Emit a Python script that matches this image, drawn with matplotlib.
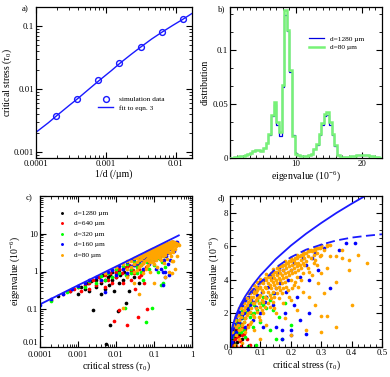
import numpy as np
import matplotlib
matplotlib.use("Agg")
import matplotlib.pyplot as plt
from matplotlib.ticker import LogLocator, NullFormatter, FixedLocator, FuncFormatter, MultipleLocator

plt.rcParams['font.family'] = ['Liberation Serif', 'DejaVu Serif']
plt.rcParams['mathtext.fontset'] = 'custom'
plt.rcParams['mathtext.rm'] = 'Liberation Serif'
plt.rcParams['mathtext.it'] = 'Liberation Serif:italic'

# ---- panel a: critical stress vs 1/d
sim_x = [1/5120, 1/2560, 1/1280, 1/640, 1/320, 1/160, 1/80]
sim_y = [0.0037, 0.0070, 0.0137, 0.0261, 0.0457, 0.0795, 0.128]
fit_x = [1e-4, 1.5e-4, 2e-4, 3e-4, 4e-4, 6e-4, 8e-4, 1.2e-3, 1.6e-3, 2.3e-3,
         3.125e-3, 4.5e-3, 6.25e-3, 9e-3, 1.25e-2, 1.7e-2]
fit_y = [0.00205, 0.0029, 0.0038, 0.0055, 0.0071, 0.0104, 0.0136, 0.0196, 0.0258, 0.0355,
         0.046, 0.062, 0.079, 0.102, 0.127, 0.158]

# ---- panel b: eigenvalue distributions (bins of 0.4 centred on 0, 0.4, 0.8 ...)
dist_green = [0.0, 0.0003, 0.0006, 0.001, 0.0015, 0.002, 0.003, 0.004, 0.005, 0.0065,
              0.0075, 0.0072, 0.0068, 0.009, 0.014, 0.022, 0.040, 0.052, 0.033, 0.024,
              0.068, 0.137, 0.119, 0.082, 0.020, 0.004, 0.003, 0.002, 0.002, 0.002,
              0.003, 0.004, 0.008, 0.013, 0.022, 0.032, 0.041, 0.043, 0.033, 0.022,
              0.012, 0.003, 0.001, 0.0005, 0.0005, 0.001, 0.0015, 0.002, 0.0025, 0.003,
              0.003, 0.003, 0.0028, 0.0022, 0.0015, 0.001, 0.0005, 0.0003]
dist_blue = [0.0, 0.0003, 0.0006, 0.001, 0.0015, 0.002, 0.003, 0.004, 0.005, 0.0062,
             0.0072, 0.0070, 0.0066, 0.009, 0.014, 0.021, 0.039, 0.050, 0.031, 0.020,
             0.066, 0.133, 0.118, 0.080, 0.021, 0.005, 0.003, 0.002, 0.002, 0.002,
             0.003, 0.004, 0.008, 0.012, 0.021, 0.031, 0.039, 0.040, 0.031, 0.021,
             0.011, 0.003, 0.001, 0.0005, 0.0005, 0.001, 0.0015, 0.002, 0.0025, 0.0028,
             0.0028, 0.0028, 0.0026, 0.002, 0.0014, 0.001, 0.0005, 0.0003]

# ---- panels c, d: eigenvalue vs critical stress
black_x = [0.0003, 0.0006, 0.001, 0.0012, 0.0015, 0.0018, 0.002, 0.0022, 0.0025, 0.003,
           0.003, 0.0035, 0.004, 0.004, 0.0045, 0.005, 0.005, 0.0055, 0.006, 0.006,
           0.0065, 0.007, 0.007, 0.008, 0.008, 0.009, 0.01, 0.01, 0.011, 0.012,
           0.012, 0.013, 0.015, 0.016, 0.018, 0.02, 0.022, 0.025, 0.03, 0.04]
black_y = [0.22, 0.3, 0.26, 0.4, 0.35, 0.5, 0.3, 0.55, 0.094, 0.6,
           0.4, 0.7, 0.5, 0.25, 0.8, 0.6, 0.35, 0.012, 0.9, 0.7,
           0.45, 0.038, 0.8, 1.0, 0.6, 0.3, 0.9, 0.7, 0.09, 1.1,
           0.5, 0.8, 0.6, 1.0, 0.15, 0.8, 0.3, 1.1, 0.7, 0.5]
red_x = [0.0002, 0.0004, 0.0006, 0.0008, 0.001, 0.0012, 0.0015, 0.002, 0.002, 0.0025,
         0.003, 0.0035, 0.004, 0.005, 0.005, 0.006, 0.007, 0.008, 0.008, 0.009,
         0.01, 0.012, 0.012, 0.014, 0.015, 0.018, 0.019, 0.02, 0.022, 0.025,
         0.028, 0.03, 0.032, 0.037, 0.04, 0.045, 0.05, 0.055, 0.06, 0.065,
         0.01, 0.015, 0.02, 0.025, 0.03, 0.035, 0.04, 0.05]
red_y = [0.18, 0.25, 0.3, 0.35, 0.4, 0.3, 0.45, 0.5, 0.35, 0.6,
         0.45, 0.7, 0.55, 0.8, 0.4, 0.6, 0.9, 0.5, 1.1, 0.05,
         0.7, 1.2, 0.094, 0.9, 0.5, 1.3, 0.039, 0.8, 1.5, 0.6,
         1.1, 1.6, 0.35, 0.063, 1.2, 0.8, 1.7, 0.5, 1.3, 0.1,
         1.0, 1.2, 1.3, 1.0, 0.9, 1.4, 0.7, 1.1]
green_x = [0.0002, 0.0005, 0.001, 0.0015, 0.002, 0.003, 0.004, 0.005, 0.006, 0.008,
           0.01, 0.012, 0.015, 0.017, 0.018, 0.02, 0.025, 0.03, 0.035, 0.04,
           0.045, 0.05, 0.055, 0.06, 0.065, 0.07, 0.075, 0.08, 0.086, 0.09,
           0.1, 0.11, 0.12, 0.13, 0.14, 0.15, 0.16, 0.17, 0.18, 0.2,
           0.03, 0.04, 0.05, 0.06, 0.07, 0.08, 0.09, 0.1, 0.11, 0.12,
           0.13, 0.14, 0.035, 0.045, 0.025]
green_y = [0.17, 0.28, 0.38, 0.4, 0.55, 0.5, 0.75, 0.6, 0.9, 0.7,
           1.2, 0.9, 1.4, 0.11, 0.8, 1.6, 1.2, 1.9, 0.9, 2.2,
           1.5, 0.6, 2.4, 0.045, 1.8, 2.6, 1.2, 2.0, 0.11, 2.8,
           1.5, 2.5, 3.0, 1.0, 2.2, 0.45, 1.8, 0.5, 2.6, 1.3,
           1.5, 1.7, 2.1, 2.3, 2.0, 2.5, 2.2, 2.6, 3.0, 2.3,
           2.8, 3.2, 1.3, 1.0, 0.9]
blue_x = [0.0001, 0.0002, 0.0004, 0.0007, 0.001, 0.0015, 0.002, 0.003, 0.004, 0.005,
          0.006, 0.008, 0.01, 0.012, 0.015, 0.02, 0.02, 0.025, 0.03, 0.035,
          0.04, 0.045, 0.05, 0.055, 0.06, 0.07, 0.075, 0.08, 0.09, 0.1,
          0.1, 0.11, 0.12, 0.13, 0.14, 0.15, 0.16, 0.17, 0.18, 0.19,
          0.2, 0.21, 0.22, 0.24, 0.25, 0.26, 0.28, 0.3, 0.33, 0.36, 0.38, 0.41,
          0.025, 0.03, 0.035, 0.04, 0.045, 0.05, 0.055, 0.06, 0.065, 0.07,
          0.08, 0.085, 0.09, 0.095, 0.105, 0.11, 0.115, 0.125, 0.135, 0.145,
          0.155, 0.165, 0.175, 0.185, 0.2, 0.21, 0.23, 0.25, 0.27, 0.29,
          0.31, 0.2, 0.17, 0.15, 0.23, 0.26]
blue_y = [0.13, 0.19, 0.26, 0.34, 0.42, 0.5, 0.58, 0.7, 0.6, 0.29,
          0.95, 1.1, 0.8, 1.4, 1.2, 1.8, 0.9, 2.0, 1.5, 2.4,
          1.9, 2.7, 1.2, 2.9, 2.2, 3.3, 1.6, 2.7, 3.6, 2.0,
          3.9, 1.2, 3.0, 4.3, 2.5, 3.5, 4.7, 0.45, 2.0, 4.0,
          1.0, 5.0, 3.0, 5.3, 0.8, 4.0, 5.6, 6.1, 3.5, 5.8, 6.2, 6.2,
          1.4, 2.1, 1.7, 2.5, 2.0, 2.8, 2.3, 3.0, 2.5, 2.8,
          3.4, 2.4, 3.1, 3.8, 3.3, 4.0, 2.7, 3.6, 4.1, 3.2,
          4.4, 3.8, 4.6, 3.3, 4.6, 2.5, 4.2, 4.9, 5.3, 4.6,
          5.9, 0.7, 1.0, 1.2, 1.6, 2.0]
orange_x = [0.005, 0.01, 0.015, 0.0155, 0.02, 0.02, 0.02, 0.03, 0.03, 0.03, 0.03,
            0.04, 0.04, 0.04, 0.04, 0.05, 0.05, 0.05, 0.05, 0.06, 0.06, 0.06, 0.06,
            0.07, 0.07, 0.07, 0.07, 0.08, 0.08, 0.08, 0.08, 0.08, 0.09, 0.09, 0.09, 0.09,
            0.1, 0.1, 0.1, 0.1, 0.1, 0.1, 0.11, 0.11, 0.11, 0.11, 0.12, 0.12, 0.12, 0.12, 0.12,
            0.13, 0.13, 0.13, 0.13, 0.14, 0.14, 0.14, 0.14, 0.14, 0.15, 0.15, 0.15, 0.15,
            0.16, 0.16, 0.16, 0.16, 0.16, 0.17, 0.17, 0.17, 0.17, 0.18, 0.18, 0.18, 0.18, 0.18,
            0.19, 0.19, 0.19, 0.2, 0.2, 0.2, 0.2, 0.2, 0.2, 0.21, 0.21, 0.21,
            0.22, 0.22, 0.22, 0.22, 0.22, 0.23, 0.23, 0.24, 0.24, 0.24, 0.24, 0.24,
            0.25, 0.25, 0.25, 0.26, 0.26, 0.26, 0.26, 0.27, 0.27, 0.28, 0.28, 0.28, 0.28,
            0.29, 0.29, 0.3, 0.3, 0.3, 0.3, 0.3, 0.3, 0.31, 0.31, 0.32, 0.32, 0.32, 0.32,
            0.33, 0.33, 0.35, 0.35, 0.35, 0.37, 0.37, 0.39, 0.39, 0.4, 0.42, 0.45,
            0.025, 0.025, 0.035, 0.035, 0.035, 0.045, 0.045, 0.045, 0.055, 0.055, 0.055,
            0.065, 0.065, 0.065, 0.065, 0.075, 0.075, 0.075, 0.075, 0.085, 0.085, 0.085, 0.085,
            0.095, 0.095, 0.095, 0.095, 0.095, 0.105, 0.105, 0.105, 0.105,
            0.115, 0.115, 0.115, 0.115, 0.125, 0.125, 0.125, 0.125,
            0.135, 0.135, 0.135, 0.135, 0.145, 0.145, 0.145, 0.145, 0.145,
            0.155, 0.155, 0.155, 0.155, 0.165, 0.165, 0.165, 0.165,
            0.175, 0.175, 0.175, 0.175, 0.175, 0.185, 0.185, 0.185, 0.185,
            0.195, 0.195, 0.195, 0.195, 0.205, 0.205, 0.205, 0.205,
            0.215, 0.215, 0.215, 0.215, 0.225, 0.225, 0.225, 0.225,
            0.235, 0.235, 0.235, 0.235, 0.245, 0.245, 0.245, 0.255, 0.255, 0.255,
            0.265, 0.265, 0.275, 0.275, 0.275, 0.285, 0.285, 0.285, 0.295, 0.295]
orange_y = [0.9, 1.3, 1.6, 0.11, 1.85, 1.2, 0.7, 2.3, 1.6, 1.0, 0.5,
            2.65, 2.0, 1.3, 0.25, 2.95, 2.4, 1.7, 0.9, 3.2, 2.7, 2.0, 1.2,
            3.45, 3.0, 2.3, 1.5, 3.7, 3.2, 2.6, 1.8, 1.0, 3.9, 3.4, 2.9, 2.1,
            4.05, 3.6, 3.1, 2.4, 1.6, 0.5, 3.8, 3.3, 2.7, 2.0, 4.35, 4.0, 3.5, 2.9, 1.3,
            4.2, 3.7, 3.1, 2.4, 4.65, 4.3, 3.9, 3.3, 2.7, 4.5, 4.0, 3.5, 2.0,
            4.85, 4.6, 4.1, 3.6, 2.9, 4.8, 4.3, 3.8, 3.2, 5.1, 4.9, 4.4, 3.9, 1.7,
            5.0, 4.5, 3.4, 5.3, 5.1, 4.6, 4.0, 2.8, 0.7, 5.2, 4.7, 3.7,
            5.5, 5.3, 4.8, 4.2, 2.2, 5.4, 4.9, 5.65, 5.5, 5.0, 4.4, 3.3,
            5.6, 5.1, 1.0, 5.8, 5.7, 4.5, 3.0, 5.75, 4.3, 5.9, 5.8, 5.2, 2.5,
            5.9, 3.8, 6.0, 5.95, 5.5, 4.4, 1.85, 0.9, 5.8, 3.2, 6.1, 6.0, 4.7, 1.85,
            6.1, 5.4, 5.4, 3.9, 1.2, 5.3, 5.8, 5.2, 4.6, 2.5, 5.5, 5.0,
            1.9, 1.3, 2.3, 1.8, 1.1, 2.6, 2.2, 1.5, 2.9, 2.5, 1.9,
            3.2, 2.8, 2.1, 1.4, 3.4, 3.0, 2.6, 1.9, 3.6, 3.3, 2.8, 2.3,
            3.8, 3.5, 3.0, 2.6, 1.8, 3.9, 3.4, 2.8, 2.2,
            4.1, 3.6, 3.0, 2.4, 4.2, 3.8, 3.3, 2.6,
            4.4, 4.0, 3.5, 2.9, 4.5, 4.1, 3.7, 3.0, 2.3,
            4.7, 4.3, 3.8, 3.2, 4.8, 4.4, 4.0, 3.4,
            4.9, 4.6, 4.1, 3.5, 2.6, 5.0, 4.7, 4.2, 3.6,
            5.1, 4.8, 4.3, 3.0, 5.2, 4.9, 4.4, 3.5,
            5.3, 5.0, 4.5, 3.9, 5.4, 5.0, 4.6, 3.6,
            5.5, 5.2, 4.7, 4.0, 5.6, 5.3, 4.9, 5.7, 5.4, 4.7,
            5.8, 5.3, 5.8, 5.5, 5.0, 5.9, 5.6, 4.9, 5.9, 5.4]

line_x = [1e-4, 3e-4, 1e-3, 3e-3, 6e-3, 0.01, 0.02, 0.035, 0.05, 0.075,
          0.1, 0.15, 0.2, 0.25, 0.3, 0.35, 0.4, 0.45]
line_y = [0.135, 0.234, 0.43, 0.74, 1.05, 1.35, 1.91, 2.53, 3.02, 3.70,
          4.27, 5.23, 6.04, 6.75, 7.39, 7.99, 8.54, 9.06]
dash_x = [1e-4, 0.001, 0.01, 0.03, 0.05, 0.08, 0.1, 0.13, 0.16, 0.2,
          0.25, 0.3, 0.35, 0.4, 0.45, 0.5]
dash_y = [0.135, 0.43, 1.3, 2.25, 2.85, 3.5, 3.85, 4.3, 4.85, 5.35,
          5.8, 6.1, 6.35, 6.52, 6.63, 6.72]

series = [("d=1280 µm", black_x, black_y, "black"),
          ("d=640 µm", red_x, red_y, "#ff0000"),
          ("d=320 µm", green_x, green_y, "#00ff00"),
          ("d=160 µm", blue_x, blue_y, "#0000ff"),
          ("d=80 µm", orange_x, orange_y, "#ffa500")]

W, H = 390, 377
fig = plt.figure(figsize=(W / 100, H / 100), dpi=100)

def box(l, r, t, b):
    return [l / W, 1 - b / H, (r - l) / W, (b - t) / H]

ax_a = fig.add_axes(box(36, 192, 7, 158))
ax_b = fig.add_axes(box(230, 382, 7, 158))
ax_c = fig.add_axes(box(40, 192, 196, 347))
ax_d = fig.add_axes(box(230, 382, 196, 347))

tfs = 6.3
lfs = 7
for ax in (ax_a, ax_b, ax_c, ax_d):
    ax.tick_params(which='both', direction='in', top=True, right=True, labelsize=tfs, pad=1.5)
    ax.tick_params(which='major', length=4, width=0.8)
    ax.tick_params(which='minor', length=2, width=0.6)
    for s in ax.spines.values():
        s.set_linewidth(0.9)

def dec_fmt(v, pos):
    return ('%.6f' % v).rstrip('0').rstrip('.')

# panel a
ax_a.plot(fit_x, fit_y, color='#1a1aff', lw=1.0, label='fit to eqn. 3')
ax_a.plot(sim_x, sim_y, 'o', mfc='none', mec='#1a1aff', ms=4.2, mew=1.0,
          label='simulation data')
ax_a.set_xscale('log')
ax_a.set_yscale('log')
ax_a.set_xlim(1e-4, 0.017)
ax_a.set_ylim(0.0008, 0.2)
ax_a.xaxis.set_major_locator(FixedLocator([1e-4, 1e-3, 1e-2]))
ax_a.yaxis.set_major_locator(FixedLocator([1e-3, 1e-2, 1e-1]))
for axis in (ax_a.xaxis, ax_a.yaxis):
    axis.set_major_formatter(FuncFormatter(dec_fmt))
    axis.set_minor_locator(LogLocator(subs=range(2, 10), numticks=20))
    axis.set_minor_formatter(NullFormatter())
ax_a.set_xlabel('1/d (/µm)', fontsize=lfs, labelpad=1)
ax_a.set_ylabel(r'critical stress ($\tau_0$)', fontsize=lfs, labelpad=0)
h, l = ax_a.get_legend_handles_labels()
ax_a.legend([h[1], h[0]], [l[1], l[0]], loc='upper left', bbox_to_anchor=(0.38, 0.43),
            frameon=False, fontsize=5.3, handlelength=2.0, handletextpad=0.8,
            labelspacing=0.35, borderaxespad=0)
ax_a.text(-0.05, 1.01, 'a)', transform=ax_a.transAxes, fontsize=tfs, ha='right', va='top')

# panel b
nb = len(dist_green)
edges = np.arange(nb + 1) * 0.4 - 0.2
ax_b.stairs(dist_blue, edges, color='#0000e0', lw=0.9, label='d=1280 µm')
ax_b.stairs(dist_green, edges, color='#77f277', lw=1.8, label='d=80 µm', zorder=3)
ax_b.set_xlim(0, 23)
ax_b.set_ylim(0, 0.14)
ax_b.xaxis.set_major_locator(MultipleLocator(10))
ax_b.xaxis.set_minor_locator(MultipleLocator(1))
ax_b.xaxis.set_major_formatter(FuncFormatter(lambda v, p: '' if v == 0 else '%g' % v))
ax_b.yaxis.set_major_locator(MultipleLocator(0.05))
ax_b.yaxis.set_minor_locator(MultipleLocator(0.05 / 3))
ax_b.yaxis.set_major_formatter(FuncFormatter(lambda v, p: '%g' % round(v, 3)))
ax_b.set_xlabel(r'eigenvalue (10$^{-6}$)', fontsize=lfs, labelpad=1)
ax_b.set_ylabel('distribution', fontsize=lfs, labelpad=2)
ax_b.legend(loc='upper left', bbox_to_anchor=(0.5, 0.83), frameon=False, fontsize=5.3,
            handlelength=2.0, handletextpad=0.8, labelspacing=0.35, borderaxespad=0)
ax_b.text(-0.03, 1.01, 'b)', transform=ax_b.transAxes, fontsize=tfs, ha='right', va='top')

# panel c
for lab, xs, ys, col in series:
    ax_c.scatter(xs, ys, s=7, color=col, marker='o', linewidths=0, label=lab)
ax_c.plot(line_x, line_y, color='#1a1aff', lw=1.3)
ax_c.set_xscale('log')
ax_c.set_yscale('log')
ax_c.set_xlim(1e-4, 1)
ax_c.set_ylim(0.01, 100)
ax_c.xaxis.set_major_locator(FixedLocator([1e-4, 1e-3, 1e-2, 1e-1, 1]))
ax_c.yaxis.set_major_locator(FixedLocator([1e-2, 1e-1, 1, 10, 100]))
ax_c.xaxis.set_major_formatter(FuncFormatter(dec_fmt))
ax_c.yaxis.set_major_formatter(FuncFormatter(lambda v, p: '' if v > 50 else dec_fmt(v, p)))
for axis in (ax_c.xaxis, ax_c.yaxis):
    axis.set_minor_locator(LogLocator(subs=range(2, 10), numticks=20))
    axis.set_minor_formatter(NullFormatter())
ax_c.tick_params(axis='x', which='major', pad=3)
ax_c.set_xlabel(r'critical stress ($\tau_0$)', fontsize=lfs, labelpad=0)
ax_c.set_ylabel(r'eigenvalue (10$^{-6}$)', fontsize=lfs, labelpad=0)
ax_c.legend(loc='upper left', bbox_to_anchor=(0.08, 0.93), frameon=False, fontsize=5.3,
            handletextpad=0.6, labelspacing=0.6, borderaxespad=0, markerscale=0.8,
            scatterpoints=1)
ax_c.text(-0.05, 1.01, 'c)', transform=ax_c.transAxes, fontsize=tfs, ha='right', va='top')
fig.canvas.draw()
ax_c.get_yticklabels()[0].set_va('bottom')

# panel d
for lab, xs, ys, col in series:
    ax_d.scatter(xs, ys, s=7, color=col, marker='o', linewidths=0)
ax_d.plot(line_x, line_y, color='#1a1aff', lw=1.3)
ax_d.plot(dash_x, dash_y, color='#1a1aff', lw=1.3, dashes=(5, 2.5))
ax_d.set_xlim(0, 0.5)
ax_d.set_ylim(0, 9)
ax_d.xaxis.set_major_locator(MultipleLocator(0.1))
ax_d.xaxis.set_minor_locator(MultipleLocator(0.02))
ax_d.yaxis.set_major_locator(MultipleLocator(2))
ax_d.yaxis.set_minor_locator(MultipleLocator(0.5))
ax_d.xaxis.set_major_formatter(FuncFormatter(lambda v, p: '%g' % round(v, 2)))
ax_d.set_xlabel(r'critical stress ($\tau_0$)', fontsize=lfs, labelpad=1)
ax_d.set_ylabel(r'eigenvalue (10$^{-6}$)', fontsize=lfs, labelpad=2)
ax_d.text(-0.03, 1.01, 'd)', transform=ax_d.transAxes, fontsize=tfs, ha='right', va='top')

fig.savefig('out.png', dpi=100)
